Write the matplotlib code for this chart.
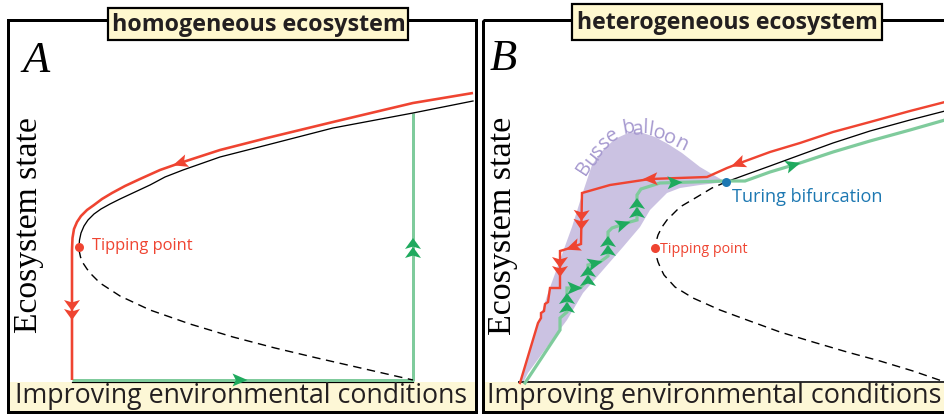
import numpy as np
import matplotlib
matplotlib.use("Agg")
import matplotlib.pyplot as plt
from matplotlib.patches import Polygon, Rectangle

# ---------------- schematic data (panel pixel space, y grows downward) ----------------
# Panel A: homogeneous ecosystem (fold bifurcation with hysteresis)
a_stable_x = [79, 79.5, 81, 84, 88, 94, 101, 110, 120, 135, 150, 165, 183, 220, 267,
              333, 413, 473]
a_stable_y = [247, 240, 233, 226, 220, 214, 209, 204, 199, 192, 185, 177, 170, 157,
              145, 128, 113, 101]
a_unstable_x = [79, 80.5, 83, 87, 92, 100, 120, 150, 190, 233, 275, 317, 365, 413]
a_unstable_y = [250, 257, 263, 269, 275, 283, 296, 310, 324, 337, 348, 358, 369, 380]
# degradation path (travels right -> left, then collapses)
a_red_x = [473, 413, 333, 267, 220, 180, 160, 140, 125, 112, 102, 94, 87, 81, 77,
           74, 72.5, 72, 72, 72]
a_red_y = [93, 103, 122, 138, 150, 163, 170, 179, 186, 193, 199, 205, 210, 216, 222,
           229, 238, 250, 300, 380]
# recovery path (travels right along the bare state, then jumps up)
a_green_x = [72, 413, 413]
a_green_y = [380, 380, 113]
a_tip = (79, 247)

# Panel B: heterogeneous ecosystem (Turing patterns, Busse balloon)
b_stable_x = [726, 745, 770, 800, 833, 870, 910, 945]
b_stable_y = [182, 175, 166, 155, 143, 131, 120, 111]
b_unstable_x = [726, 712, 697, 680, 667, 662, 658, 656, 655, 656, 658, 661, 664, 675,
                693, 720, 747, 780, 813, 847, 880, 913, 945]
b_unstable_y = [182, 188, 197, 207, 220, 227, 235, 242, 248, 255, 262, 269, 275, 287,
                298, 310, 320, 332, 342, 352, 361, 371, 382]
b_red_x = [945, 910, 870, 833, 800, 770, 740, 727, 707, 650, 610, 582, 581, 570,
           560, 560, 550, 548, 545, 544, 541, 541, 538, 520]
b_red_y = [102, 111, 122, 132, 143, 152, 163, 168, 177, 179, 185, 193, 244, 248,
           251, 288, 288, 302, 304, 311, 313, 318, 323, 383]
b_green_x = [525, 560, 560, 567, 567, 580, 588, 588, 600, 608, 608, 612, 630, 637,
             637, 641, 660, 726, 745, 770, 800, 833, 870, 910, 945]
b_green_y = [383, 330, 318, 312, 288, 288, 280, 265, 262, 256, 232, 228, 222, 220,
             195, 189, 183, 181, 181, 172, 163, 152, 141, 130, 120]
balloon_x = [520, 528, 537, 548, 560, 572, 582, 592, 603, 615, 628, 640, 655, 668,
             682, 700, 717, 726, 700, 680, 667, 650, 640, 623, 603, 583, 567, 547,
             528, 523]
balloon_y = [383, 355, 327, 293, 260, 227, 195, 165, 150, 139, 133, 132, 137, 144,
             153, 167, 177, 182, 185, 188, 193, 210, 227, 247, 270, 293, 320, 347,
             373, 383]
b_tip = (655, 248)
b_turing = (726, 182)

# direction markers: (x, y, kind)  kind 1 = single head, 2 = double head
a_red_marks = [(180, 163, 1), (72, 310, 2)]
a_green_marks = [(240, 380, 1), (413, 248, 2)]
b_red_marks = [(738, 164, 1), (650, 179, 1), (581, 220, 2), (573, 248, 1), (560, 267, 2)]
b_green_marks = [(567, 303, 2), (575, 288, 1), (588, 276, 2), (595, 262, 1),
                 (608, 246, 2), (623, 223, 1), (637, 208, 2), (675, 182, 1),
                 (793, 164, 1)]

RED = "#ef4431"
GREEN_LINE = "#7fcb9c"
GREEN_HEAD = "#1faa5e"
BLUE = "#1d78b2"
LAVENDER = "#cbc2e2"
LAVENDER_TXT = "#a598cf"
CREAM = "#fff8cf"
CREAM2 = "#fdf7d6"
DARK = "#231f20"
SANS = ["Open Sans", "DejaVu Sans"]
SERIF = ["Liberation Serif", "DejaVu Serif"]

PX = 0.72  # one pixel in points at 100 dpi

fig = plt.figure(figsize=(9.45, 4.15), dpi=100)
ax = fig.add_axes([0, 0, 1, 1])
ax.set_xlim(0, 945)
ax.set_ylim(415, 0)
ax.axis("off")


def head(x, y, ux, uy, color, length=15, width=13, z=7):
    px, py = -uy, ux
    tip = (x + ux * length / 2, y + uy * length / 2)
    bx, by = x - ux * length / 2, y - uy * length / 2
    notch = (bx + ux * length * 0.22, by + uy * length * 0.22)
    p1 = (bx + px * width / 2, by + py * width / 2)
    p2 = (bx - px * width / 2, by - py * width / 2)
    ax.add_patch(Polygon([tip, p1, notch, p2], closed=True, fc=color,
                         ec="none", zorder=z))


def marks(xs, ys, items, color):
    pts = np.column_stack([xs, ys]).astype(float)
    for (mx, my, kind) in items:
        best = None
        for i in range(len(pts) - 1):
            p, q = pts[i], pts[i + 1]
            d = q - p
            L2 = float(d @ d)
            if L2 == 0:
                continue
            t = np.clip(((mx - p[0]) * d[0] + (my - p[1]) * d[1]) / L2, 0, 1)
            c = p + t * d
            dist = np.hypot(c[0] - mx, c[1] - my)
            if best is None or dist < best[0]:
                best = (dist, c, d / np.sqrt(L2))
        _, c, u = best
        if kind == 1:
            head(c[0], c[1], u[0], u[1], color)
        else:
            for s in (-4.5, 4.5):
                head(c[0] + u[0] * s, c[1] + u[1] * s, u[0], u[1], color,
                     length=11, width=16)


# ---------------- frames and labels ----------------
ax.add_patch(Rectangle((8, 20), 468, 392, fill=False, ec="black", lw=3 * PX, zorder=2))
ax.add_patch(Rectangle((483, 20), 500, 392, fill=False, ec="black", lw=3 * PX,
                       zorder=2, clip_on=True))

ax.add_patch(Rectangle((10, 382), 465, 29, fc=CREAM2, ec="none", zorder=3))
ax.add_patch(Rectangle((485, 382), 470, 29, fc=CREAM2, ec="none", zorder=3))
ax.add_patch(Rectangle((108, 8), 300, 32, fc=CREAM, ec="black", lw=2.2 * PX, zorder=8))
ax.add_patch(Rectangle((572, 4), 310, 36, fc=CREAM, ec="black", lw=2.2 * PX, zorder=8))

texts = []
t = ax.text(258.5, 25, "homogeneous ecosystem", ha="center", va="center",
            family=SANS, weight="bold", color=DARK, fontsize=16, zorder=9)
texts.append((t, "w", 293))
t = ax.text(727, 23, "heterogeneous ecosystem", ha="center", va="center",
            family=SANS, weight="bold", color=DARK, fontsize=16, zorder=9)
texts.append((t, "w", 302))
t = ax.text(241.5, 396, "Improving environmental conditions", ha="center",
            va="center", family=SANS, color=DARK, fontsize=18, zorder=9)
texts.append((t, "w", 453))
t = ax.text(714.5, 396, "Improving environmental conditions", ha="center",
            va="center", family=SANS, color=DARK, fontsize=18, zorder=9)
texts.append((t, "w", 455))
t = ax.text(29, 225, "Ecosystem state", ha="center", va="center", rotation=90,
            family=SERIF, color="black", fontsize=26, zorder=9)
texts.append((t, "h", 216))
t = ax.text(503, 226, "Ecosystem state", ha="center", va="center", rotation=90,
            family=SERIF, color="black", fontsize=26, zorder=9)
texts.append((t, "h", 218))
ax.text(22, 72, "A", family=SERIF, style="italic", fontsize=32, color="black",
        ha="left", va="baseline", zorder=9)
ax.text(490, 70, "B", family=SERIF, style="italic", fontsize=32, color="black",
        ha="left", va="baseline", zorder=9)

t = ax.text(92, 246, "Tipping point", family=SANS, color=RED, fontsize=11,
            ha="left", va="center", zorder=9)
texts.append((t, "w", 101))
t = ax.text(660, 249, "Tipping point", family=SANS, color=RED, fontsize=10,
            ha="left", va="center", zorder=9)
texts.append((t, "w", 88))
t = ax.text(732, 197, "Turing bifurcation", family=SANS, color=BLUE, fontsize=13,
            ha="left", va="center", zorder=9)
texts.append((t, "w", 150))

# curved label along the top of the Busse balloon
balloon_chars = [("B", 584, 168, 57), ("u", 592, 159, 52), ("s", 598, 151, 45),
                 ("s", 605, 143, 38), ("e", 612, 136, 30), ("b", 628, 128, 10),
                 ("a", 637, 130, 4), ("l", 645, 128, -2), ("l", 650, 130, -8),
                 ("o", 659, 134, -15), ("o", 669, 138, -20), ("n", 681, 144, -26)]
for ch, cx, cy, rot in balloon_chars:
    ax.text(cx, cy, ch, family=SANS, color=LAVENDER_TXT, fontsize=14.5,
            rotation=rot, rotation_mode="anchor", ha="center", va="center", zorder=4)

fig.canvas.draw()
r = fig.canvas.get_renderer()
for t, mode, target in texts:
    bb = t.get_window_extent(r)
    cur = bb.width if mode == "w" else bb.height
    t.set_fontsize(t.get_fontsize() * target / cur)

# ---------------- panel A curves ----------------
ax.plot([72, 413], [381.5, 381.5], color="black", lw=1.2 * PX, zorder=4)
ax.plot(a_green_x, a_green_y, color=GREEN_LINE, lw=3 * PX, zorder=4,
        solid_capstyle="butt")
ax.plot(a_stable_x, a_stable_y, color="black", lw=1.3 * PX, zorder=5)
ax.plot(a_unstable_x, a_unstable_y, color="black", lw=1.4 * PX, zorder=5,
        dashes=(6, 4))
ax.plot(a_red_x, a_red_y, color=RED, lw=2.6 * PX, zorder=5, solid_capstyle="butt")
ax.plot(*a_tip, "o", color=RED, ms=9 * PX, mec="none", zorder=7)
marks(a_red_x, a_red_y, a_red_marks, RED)
marks(a_green_x, a_green_y, a_green_marks, GREEN_HEAD)

# ---------------- panel B curves ----------------
ax.add_patch(Polygon(np.column_stack([balloon_x, balloon_y]), closed=True,
                     fc=LAVENDER, ec="none", zorder=3))
ax.plot([519, 945], [381.5, 381.5], color="#333333", lw=2 * PX, zorder=4)
ax.plot(b_unstable_x, b_unstable_y, color="black", lw=1.4 * PX, zorder=5,
        dashes=(6, 4))
ax.plot(b_stable_x, b_stable_y, color="black", lw=1.3 * PX, zorder=5)
ax.plot(b_green_x, b_green_y, color=GREEN_LINE, lw=3.2 * PX, zorder=5,
        solid_joinstyle="miter")
ax.plot(b_red_x, b_red_y, color=RED, lw=2.4 * PX, zorder=6, solid_joinstyle="miter")
ax.plot(*b_tip, "o", color=RED, ms=9 * PX, mec="none", zorder=7)
ax.plot(*b_turing, "o", color=BLUE, ms=9 * PX, mec="none", zorder=8)
marks(b_red_x, b_red_y, b_red_marks, RED)
marks(b_green_x, b_green_y, b_green_marks, GREEN_HEAD)

fig.savefig("out.png", dpi=100)
